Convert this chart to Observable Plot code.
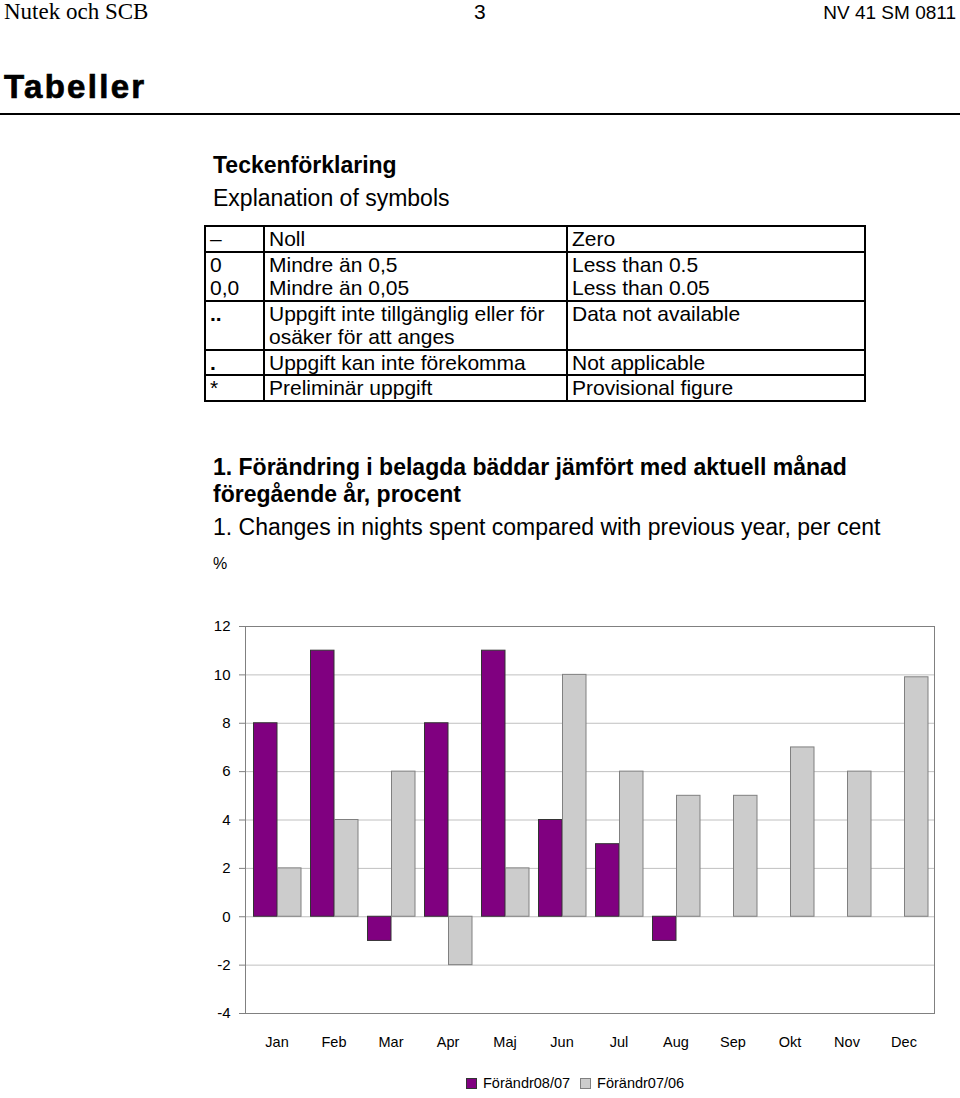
<!DOCTYPE html>
<html>
<head>
<meta charset="utf-8">
<script src="https://cdn.jsdelivr.net/npm/d3@7"></script>
<script src="https://cdn.jsdelivr.net/npm/@observablehq/plot@0.6"></script>
<style>
  html, body { margin: 0; padding: 0; background: #fff; }
  body { width: 960px; height: 1098px; position: relative; overflow: hidden; font-family: "Liberation Sans", Arial, sans-serif; color: #000; }
  .abs { position: absolute; white-space: nowrap; line-height: 1; }
  table.sym { position: absolute; left: 204px; top: 225px; border-collapse: collapse; font-size: 21px; }
  table.sym td { border: 2px solid #000; padding: 0 0 0 4px; vertical-align: top; line-height: 23.5px; }
  .legend { position: absolute; top: 1075px; left: 466px; font-size: 14.5px; display: flex; align-items: center; white-space: nowrap; }
  .sw { display: inline-block; width: 11px; height: 11px; margin-right: 6px; box-sizing: border-box; }
</style>
</head>
<body>
<div class="abs" style="left:4px;top:0px;font-family:'Liberation Serif','Times New Roman',serif;font-size:23px;">Nutek och SCB</div>
<div class="abs" style="left:474px;top:1px;font-size:21px;">3</div>
<div class="abs" style="right:4px;top:3px;font-size:19px;">NV 41 SM 0811</div>
<div class="abs" style="left:4px;top:70px;font-size:33px;font-weight:bold;letter-spacing:2.3px;-webkit-text-stroke:0.7px #000;">Tabeller</div>
<div class="abs" style="left:0;top:113px;width:960px;height:2px;background:#000;"></div>

<div class="abs" style="left:213px;top:154px;font-size:23px;font-weight:bold;">Teckenförklaring</div>
<div class="abs" style="left:213px;top:187px;font-size:23px;">Explanation of symbols</div>

<table class="sym">
  <tr><td style="width:53px">–</td><td style="width:297px">Noll</td><td style="width:292px">Zero</td></tr>
  <tr><td>0<br>0,0</td><td>Mindre än 0,5<br>Mindre än 0,05</td><td>Less than 0.5<br>Less than 0.05</td></tr>
  <tr><td><b>..</b></td><td>Uppgift inte tillgänglig eller för<br>osäker för att anges</td><td>Data not available</td></tr>
  <tr><td><b>.</b></td><td>Uppgift kan inte förekomma</td><td>Not applicable</td></tr>
  <tr><td>*</td><td>Preliminär uppgift</td><td>Provisional figure</td></tr>
</table>

<div class="abs" style="left:213px;top:456px;font-size:23px;font-weight:bold;">1. Förändring i belagda bäddar jämfört med aktuell månad</div>
<div class="abs" style="left:213px;top:483px;font-size:23px;font-weight:bold;">föregående år, procent</div>
<div class="abs" style="left:213px;top:516px;font-size:23px;">1. Changes in nights spent compared with previous year, per cent</div>
<div class="abs" style="left:213px;top:556px;font-size:16px;">%</div>

<div id="chart" style="position:absolute;left:0;top:600px;"></div>

<div class="legend">
  <span class="sw" style="background:#800080;border:1px solid #333;"></span><span>Förändr08/07</span>
  <span class="sw" style="background:#cccccc;border:1px solid #808080;margin-left:10px;"></span><span>Förändr07/06</span>
</div>

<script>
const months = ["Jan","Feb","Mar","Apr","Maj","Jun","Jul","Aug","Sep","Okt","Nov","Dec"];
const change0807 = [8, 11, -1, 8, 11, 4, 3, -1, null, null, null, null];
const change0706 = [2, 4, 6, -2, 2, 10, 6, 5, 5, 7, 6, 9.9];
const yTicks = [-4, -2, 0, 2, 4, 6, 8, 10, 12];

const d0807 = months.map((m, i) => ({month: m, value: change0807[i]})).filter(d => d.value != null);
const d0706 = months.map((m, i) => ({month: m, value: change0706[i]})).filter(d => d.value != null);

const chart = Plot.plot({
  width: 960,
  height: 460,
  marginLeft: 245,
  marginRight: 26,
  marginTop: 26,
  marginBottom: 47,
  style: {fontFamily: "'Liberation Sans', Arial, sans-serif", fontSize: "14px", color: "#000", background: "#fff"},
  x: {domain: months, padding: 0, label: null},
  y: {domain: [-4, 12], label: null},
  marks: [
    Plot.gridY(yTicks, {stroke: "#c0c0c0", strokeOpacity: 1}),
    Plot.barY(d0807, {x: "month", y: "value", fill: "#800080", stroke: "#333", strokeWidth: 1, insetLeft: 5.5, insetRight: 28}),
    Plot.barY(d0706, {x: "month", y: "value", fill: "#cccccc", stroke: "#808080", strokeWidth: 1, insetLeft: 29.5, insetRight: 4}),
    Plot.frame({stroke: "#808080", strokeWidth: 1}),
    Plot.axisY(yTicks, {tickSize: 6, tickPadding: 9, stroke: "#808080", fontSize: 15, tickFormat: d => String(d)}),
    Plot.axisX({tickSize: 0, tickPadding: 23, fontSize: 14.5})
  ]
});
document.getElementById("chart").appendChild(chart);
</script>
</body>
</html>
